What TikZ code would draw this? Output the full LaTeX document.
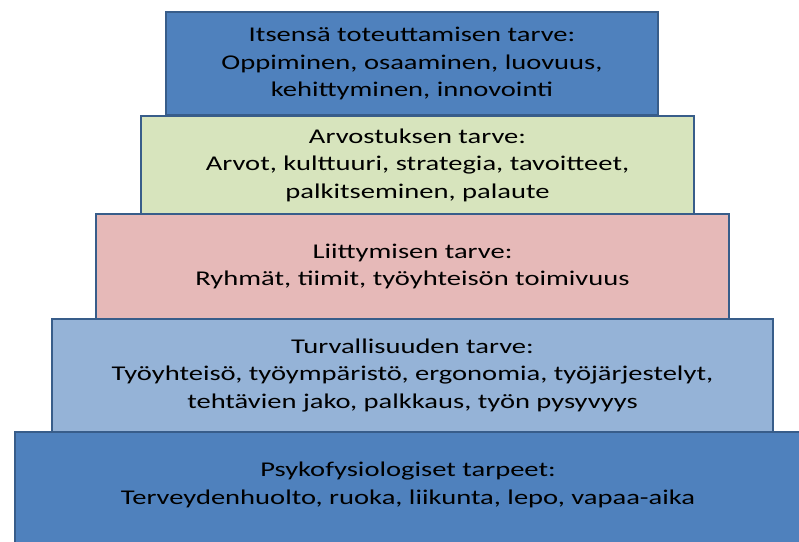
\documentclass[tikz,border=0pt]{standalone}
\usepackage{fontspec}
\setmainfont{Carlito}[FakeStretch=1.36]
\definecolor{bdr}{HTML}{385D8A}
\definecolor{cblue}{HTML}{4F81BD}
\definecolor{cgreen}{HTML}{D7E4BD}
\definecolor{cpink}{HTML}{E6B9B8}
\definecolor{clight}{HTML}{95B3D7}
\begin{document}
\begin{tikzpicture}[x=1pt,y=-1pt,
  level/.style={draw=bdr, line width=2pt, anchor=north west, inner sep=0pt,
    align=center, font=\fontsize{21}{27.5}\selectfont, text=black},
  label5/.style={align=center, font=\fontsize{21}{27.5}\selectfont, inner sep=0pt}]
\useasboundingbox (0,0) rectangle (799,541);
\node[level, fill=cblue, minimum width=800pt, minimum height=130pt] (l5) at (14,431) {};
\node[label5] (t5) at (408,485) {Psykofysiologiset tarpeet:\\Terveydenhuolto, ruoka, liikunta, lepo, vapaa-aika};
\node[level, fill=clight, minimum width=721pt, minimum height=113pt] (l4) at (51,318)
  {Turvallisuuden tarve:\\Työyhteisö, työympäristö, ergonomia, työjärjestelyt,\\tehtävien jako, palkkaus, työn pysyvyys};
\node[level, fill=cpink, minimum width=633pt, minimum height=105pt] (l3) at (95,213)
  {Liittymisen tarve:\\Ryhmät, tiimit, työyhteisön toimivuus};
\node[level, fill=cgreen, minimum width=553pt, minimum height=98pt] (l2) at (140,115)
  {Arvostuksen tarve:\\Arvot, kulttuuri, strategia, tavoitteet,\\palkitseminen, palaute};
\node[level, fill=cblue, minimum width=492pt, minimum height=103pt] (l1) at (165,11)
  {Itsensä toteuttamisen tarve:\\Oppiminen, osaaminen, luovuus,\\kehittyminen, innovointi};
\end{tikzpicture}
\end{document}
